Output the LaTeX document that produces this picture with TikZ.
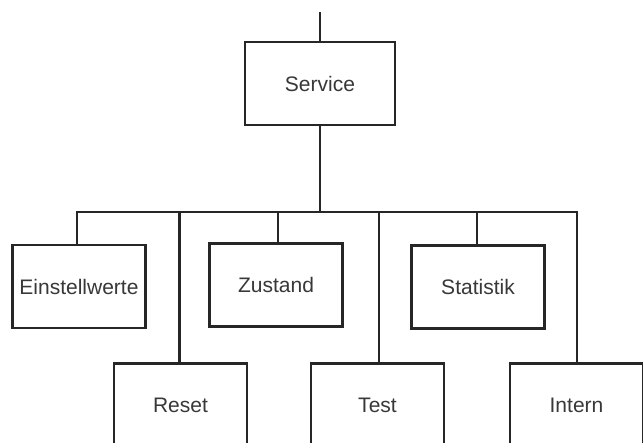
\documentclass[tikz,border=0pt]{standalone}
\usepackage{fontspec}
\setmainfont{Liberation Sans}
\begin{document}
\begin{tikzpicture}[x=1pt,y=-1pt,
  box/.style={draw=black!85, line width=2.4pt, rectangle, fill=white,
    minimum width=133pt, minimum height=83pt, inner sep=0pt,
    text=black!78, font=\fontsize{21}{25}\selectfont},
  link/.style={draw=black!85, line width=2.4pt}]
\useasboundingbox (0,0) rectangle (643,443);

% top level
\node[box, minimum width=150pt] (service) at (320,83.5) {Service};
\coordinate (entry) at (service.north |- 0,12);
\coordinate (bus) at (service.south |- 0,212);

% upper row of submenus
\node[box] (einst) at (79,286.5) {Einstellwerte};
\node[box] (zustand) at (276,285) {Zustand};
\node[box] (stat) at (478,287) {Statistik};

% lower row of submenus (cut off at the bottom)
\node[box] (reset) at (180.5,405) {Reset};
\node[box] (test) at (377.5,405) {Test};
\node[box] (intern) at (576.5,405) {Intern};

% branch points on the bus
\coordinate (bE) at (77,212);
\coordinate (bR) at (179.5,212);
\coordinate (bZ) at (278,212);
\coordinate (bT) at (379,212);
\coordinate (bS) at (477,212);
\coordinate (bI) at (577,212);

\draw[link] (entry) -- (service.north);
\draw[link] (service.south) -- (bus);
\draw[link] (bE |- einst.north) -- (bE) -- (bI) -- (bI |- intern.north);
\draw[link] (bR) -- (bR |- reset.north);
\draw[link] (bZ) -- (bZ |- zustand.north);
\draw[link] (bT) -- (bT |- test.north);
\draw[link] (bS) -- (bS |- stat.north);
\end{tikzpicture}
\end{document}
